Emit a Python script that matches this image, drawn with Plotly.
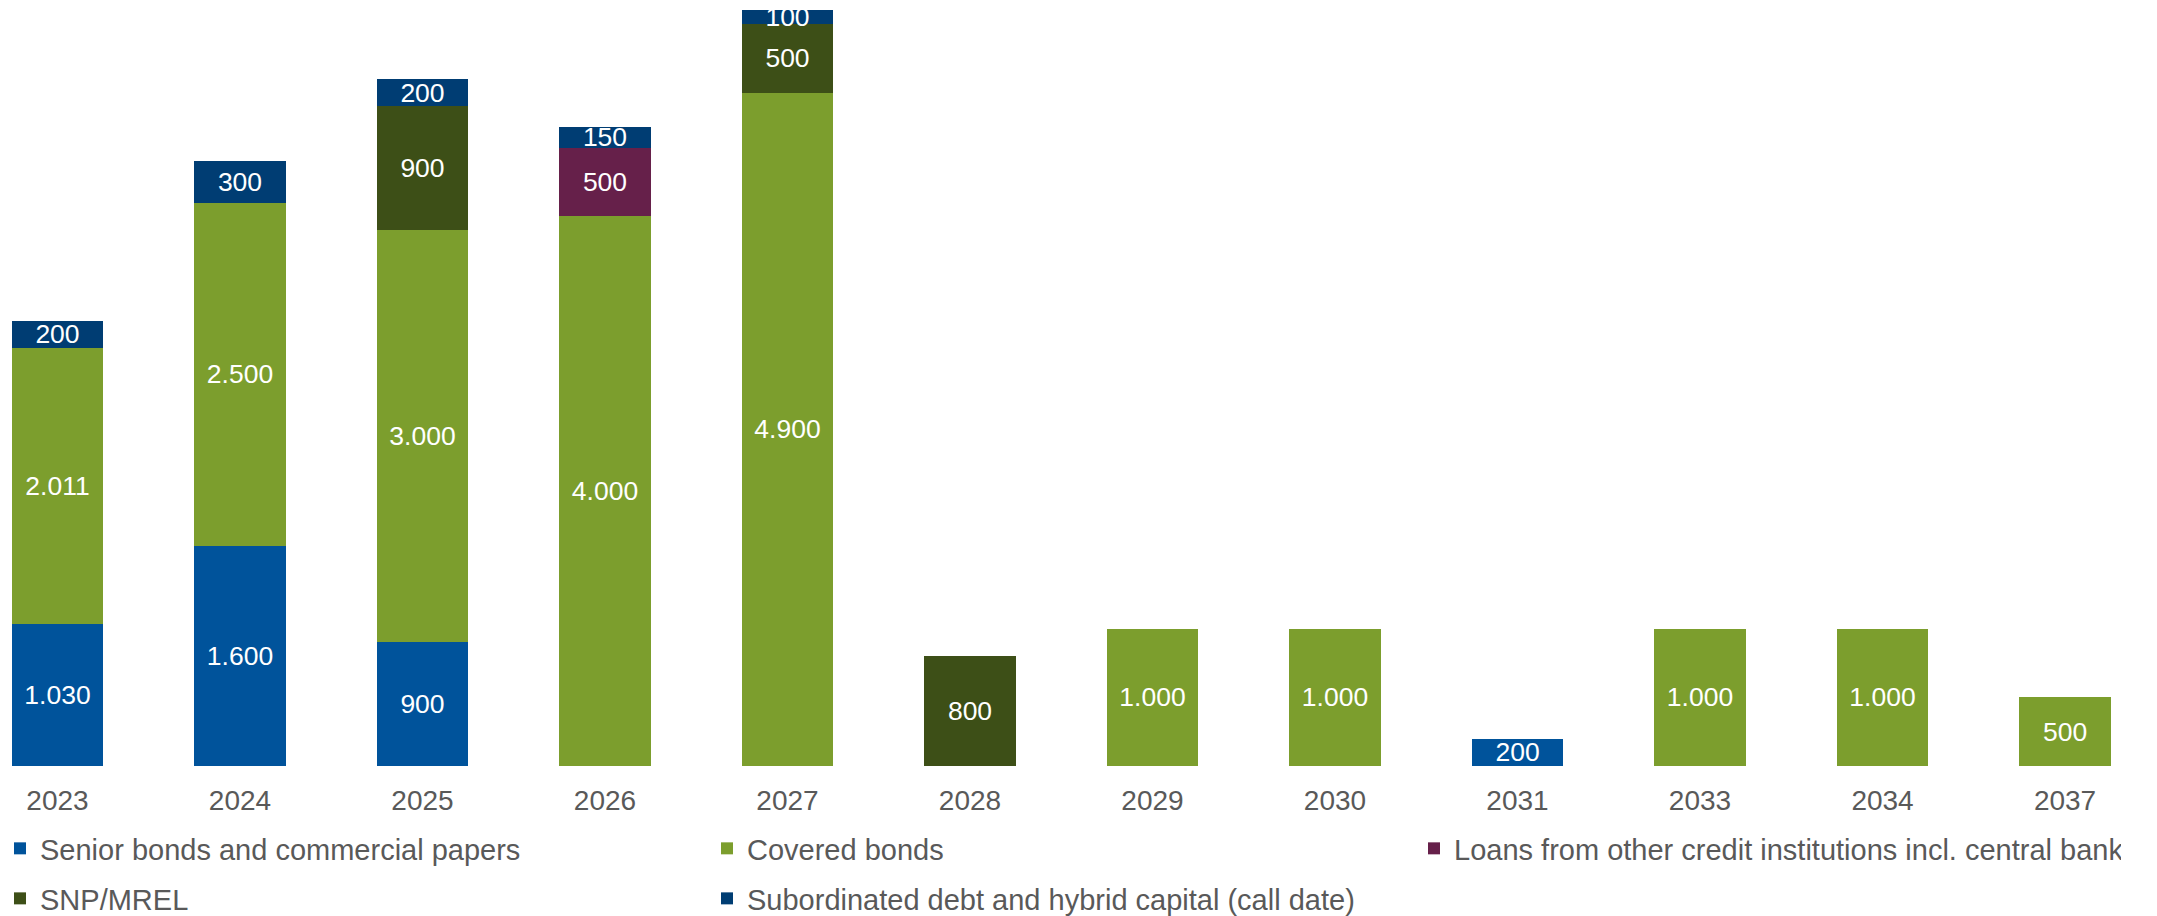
import plotly.graph_objects as go

# Maturity profile by year (amounts in millions)
years = ["2023", "2024", "2025", "2026", "2027", "2028",
         "2029", "2030", "2031", "2033", "2034", "2037"]

senior = [1030, 1600, 900, None, None, None, None, None, 200, None, None, None]
covered = [2011, 2500, 3000, 4000, 4900, None, 1000, 1000, None, 1000, 1000, 500]
loans = [None, None, None, 500, None, None, None, None, None, None, None, None]
snp = [None, None, 900, None, 500, 800, None, None, None, None, None, None]
subordinated = [200, 300, 200, 150, 100, None, None, None, None, None, None, None]

series = [
    ("Senior bonds and commercial papers", senior, "#00539B", "legend"),
    ("Covered bonds", covered, "#7C9E2D", "legend"),
    ("Loans from other credit institutions incl. central bank", loans, "#66204A", "legend"),
    ("SNP/MREL", snp, "#3D4F17", "legend2"),
    ("Subordinated debt and hybrid capital (call date)", subordinated, "#003D73", "legend2"),
]


def fmt(v):
    # thousands separator as a dot
    return "" if v is None else f"{v:,}".replace(",", ".")


FONT = "Liberation Sans, Arial, sans-serif"

fig = go.Figure()
for name, vals, color, lg in series:
    fig.add_trace(go.Bar(
        x=years, y=vals, name=name, legend=lg,
        marker=dict(color=color, line=dict(width=0)),
        width=0.5,
        text=[fmt(v) for v in vals],
        textposition="inside",
        insidetextanchor="middle",
        textangle=0,
        textfont=dict(color="white", size=26.5, family=FONT),
        hoverinfo="skip",
    ))

legend_common = dict(
    orientation="h", x=0, xanchor="left", yanchor="top",
    traceorder="normal",
    entrywidth=662, entrywidthmode="pixels",
    font=dict(size=29, color="#595959", family=FONT),
    itemclick=False, itemdoubleclick=False,
)

fig.update_layout(
    barmode="stack",
    width=2157, height=916,
    margin=dict(l=0, r=0, t=0, b=150, autoexpand=False),
    paper_bgcolor="white", plot_bgcolor="white",
    font=dict(family=FONT, color="#595959"),
    uniformtext=dict(minsize=26.5, mode="show"),
    xaxis=dict(
        type="category", range=[-0.315, 11.504],
        showgrid=False, showline=False, zeroline=False, ticks="",
        tickfont=dict(size=28, color="#595959", family=FONT),
        ticklabelstandoff=15,
    ),
    yaxis=dict(range=[0, 5575], visible=False, showgrid=False, zeroline=False),
    legend=dict(legend_common, y=-0.0744),
    legend2=dict(legend_common, y=-0.1397),
    showlegend=True,
)

fig.write_html("out.html")
